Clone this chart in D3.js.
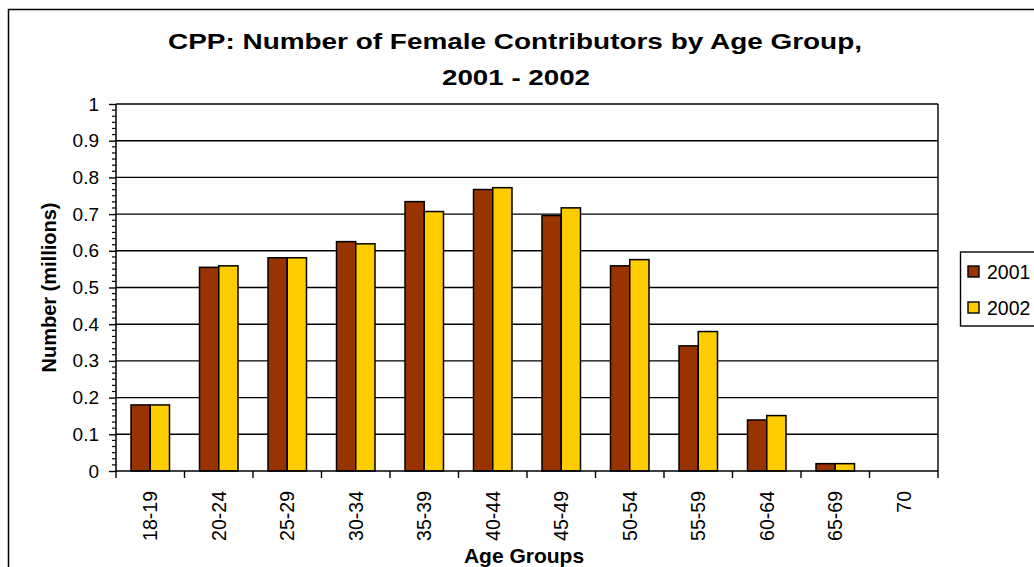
<!DOCTYPE html>
<html>
<head>
<meta charset="utf-8">
<script src="https://cdn.jsdelivr.net/npm/d3@7"></script>
<style>
  body { margin: 0; background: #fff; }
  text { font-family: "Liberation Sans", Arial, sans-serif; fill: #000; }
</style>
</head>
<body>
<div id="chart"></div>
<script>
// Data
let ageGroups = ["18-19", "20-24", "25-29", "30-34", "35-39", "40-44",
                 "45-49", "50-54", "55-59", "60-64", "65-69", "70"];
let seriesNames = ["2001", "2002"];
let values2001 = [0.18, 0.555, 0.581, 0.625, 0.734, 0.767, 0.696, 0.559, 0.341, 0.139, 0.02, 0];
let values2002 = [0.18, 0.559, 0.581, 0.619, 0.707, 0.772, 0.717, 0.576, 0.38, 0.151, 0.02, 0];
let seriesColors = ["#993300", "#FFCC00"];
let yTicks = [0, 0.1, 0.2, 0.3, 0.4, 0.5, 0.6, 0.7, 0.8, 0.9, 1];

let width = 1034;
let height = 567;
let plot = { left: 116, right: 938, top: 104, bottom: 471 };

let svg = d3
    .select("#chart")
    .append("svg")
    .attr("width", width)
    .attr("height", height);

// Outer chart border (runs off the right and bottom edges)
svg.append("rect")
  .attr("x", 8.5).attr("y", 9.5)
  .attr("width", 1100).attr("height", 600)
  .attr("fill", "none")
  .attr("stroke", "#000")
  .attr("stroke-width", 1.5);

let x0 = d3.scaleBand()
    .domain(ageGroups)
    .range([plot.left, plot.right])
    .padding(0);

let x1 = d3.scaleBand()
    .domain(seriesNames)
    .range([0, x0.bandwidth()])
    .paddingInner(0)
    .paddingOuter(0.78);

let y = d3.scaleLinear()
    .domain([0, 1])
    .range([plot.bottom, plot.top]);

// Gridlines
svg.append("g")
  .selectAll("line")
  .data(yTicks.filter((d) => d > 0))
  .enter()
  .append("line")
  .attr("x1", plot.left).attr("x2", plot.right)
  .attr("y1", (d) => y(d)).attr("y2", (d) => y(d))
  .attr("stroke", "#000")
  .attr("stroke-width", 1.4);

// Plot area right edge
svg.append("line")
  .attr("x1", plot.right).attr("x2", plot.right)
  .attr("y1", plot.top).attr("y2", plot.bottom)
  .attr("stroke", "#000")
  .attr("stroke-width", 1.4);

// Bars
let rows = ageGroups.map((g, i) => ({
  group: g,
  vals: [
    { name: seriesNames[0], v: values2001[i], color: seriesColors[0] },
    { name: seriesNames[1], v: values2002[i], color: seriesColors[1] }
  ]
}));

svg.append("g")
  .selectAll("g")
  .data(rows)
  .enter()
  .append("g")
  .attr("transform", (d) => "translate(" + x0(d.group) + ",0)")
  .selectAll("rect")
  .data((d) => d.vals.filter((s) => s.v > 0))
  .enter()
  .append("rect")
  .attr("x", (d) => x1(d.name))
  .attr("y", (d) => y(d.v))
  .attr("width", x1.bandwidth())
  .attr("height", (d) => y(0) - y(d.v))
  .attr("fill", (d) => d.color)
  .attr("stroke", "#000")
  .attr("stroke-width", 1.5);

// Y axis with minor ticks
let minorTicks = d3.range(0, 60).map((k) => k / 60).filter((d, k) => k % 6 != 0);

svg.append("g")
  .selectAll("line")
  .data(minorTicks)
  .enter()
  .append("line")
  .attr("x1", plot.left - 4).attr("x2", plot.left)
  .attr("y1", (d) => y(d)).attr("y2", (d) => y(d))
  .attr("stroke", "#000")
  .attr("stroke-width", 1.2);

let yAxis = svg.append("g")
    .attr("transform", "translate(" + plot.left + ",0)")
    .call(d3.axisLeft(y).tickValues(yTicks).tickSize(7).tickPadding(10)
      .tickFormat(d3.format("~g")));

yAxis.select(".domain").attr("stroke-width", 1.5).attr("d",
  "M0," + plot.top + "V" + plot.bottom);
yAxis.selectAll(".tick line").attr("stroke-width", 1.4);
yAxis.selectAll(".tick text")
  .style("font-size", "19px")
  .style("font-family", "'Liberation Sans', Arial, sans-serif")
  .attr("fill", "#000");

// X axis: ticks at band boundaries, labels rotated
let xAxisG = svg.append("g");
xAxisG.append("line")
  .attr("x1", plot.left).attr("x2", plot.right)
  .attr("y1", plot.bottom).attr("y2", plot.bottom)
  .attr("stroke", "#000")
  .attr("stroke-width", 1.5);

xAxisG.selectAll("line.tick")
  .data(ageGroups.concat(["end"]))
  .enter()
  .append("line")
  .attr("class", "tick")
  .attr("x1", (d) => d == "end" ? plot.right : x0(d))
  .attr("x2", (d) => d == "end" ? plot.right : x0(d))
  .attr("y1", plot.bottom).attr("y2", plot.bottom + 7)
  .attr("stroke", "#000")
  .attr("stroke-width", 1.4);

xAxisG.selectAll("text")
  .data(ageGroups)
  .enter()
  .append("text")
  .attr("transform", (d) =>
    "translate(" + (x0(d) + x0.bandwidth() / 2) + "," + (plot.bottom + 20) + ") rotate(-90)")
  .attr("dy", "0.36em")
  .attr("text-anchor", "end")
  .style("font-size", "19.5px")
  .text((d) => d);

// Titles
svg.append("text")
  .attr("x", 515).attr("y", 49)
  .attr("text-anchor", "middle")
  .attr("textLength", 694)
  .attr("lengthAdjust", "spacingAndGlyphs")
  .style("font-size", "22px")
  .style("font-weight", "bold")
  .text("CPP: Number of Female Contributors by Age Group,");

svg.append("text")
  .attr("x", 516).attr("y", 85)
  .attr("text-anchor", "middle")
  .attr("textLength", 148)
  .attr("lengthAdjust", "spacingAndGlyphs")
  .style("font-size", "22px")
  .style("font-weight", "bold")
  .text("2001 - 2002");

svg.append("text")
  .attr("transform", "translate(56," + ((plot.top + plot.bottom) / 2) + ") rotate(-90)")
  .attr("text-anchor", "middle")
  .style("font-size", "20px")
  .style("font-weight", "bold")
  .text("Number (millions)");

svg.append("text")
  .attr("x", (plot.left + plot.right) / 2 - 3).attr("y", 563)
  .attr("text-anchor", "middle")
  .style("font-size", "21px")
  .style("font-weight", "bold")
  .text("Age Groups");

// Legend
let legend = svg.append("g");
legend.append("rect")
  .attr("x", 960.5).attr("y", 252)
  .attr("width", 100).attr("height", 74)
  .attr("fill", "#fff")
  .attr("stroke", "#000")
  .attr("stroke-width", 1.4);

let legendItems = legend.selectAll("g.item")
    .data(seriesNames)
    .enter()
    .append("g")
    .attr("class", "item")
    .attr("transform", (d, i) => "translate(968," + (266 + i * 36) + ")");

legendItems.append("rect")
  .attr("width", 11).attr("height", 11)
  .attr("fill", (d, i) => seriesColors[i])
  .attr("stroke", "#000")
  .attr("stroke-width", 1.4);

legendItems.append("text")
  .attr("x", 19).attr("y", 12.5)
  .style("font-size", "19.5px")
  .text((d) => d);
</script>
</body>
</html>
